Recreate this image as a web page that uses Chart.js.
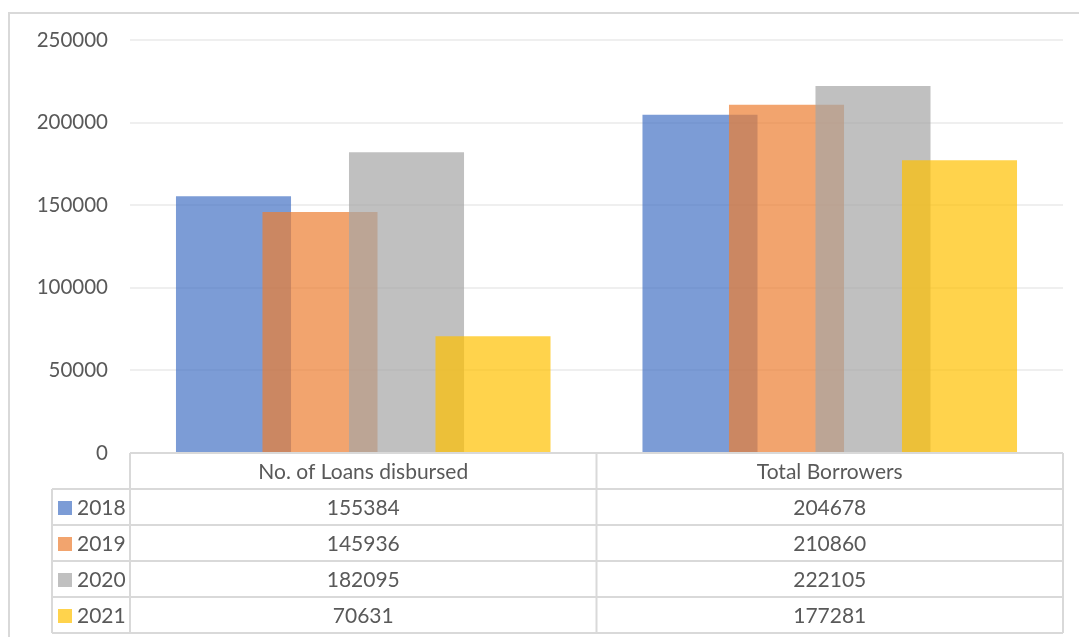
<!DOCTYPE html>
<html>
<head>
<meta charset="utf-8">
<script src="https://cdn.jsdelivr.net/npm/chart.js@4/dist/chart.umd.min.js"></script>
<style>
  html, body { margin: 0; padding: 0; background: #ffffff; }
  #wrap { width: 1079px; height: 637px; position: relative; }
</style>
</head>
<body>
<div id="wrap"><canvas id="c" width="1079" height="637"></canvas></div>
<script>
const categories = ["No. of Loans disbursed", "Total Borrowers"];
const seriesNames = ["2018", "2019", "2020", "2021"];
const values2018 = [155384, 204678];
const values2019 = [145936, 210860];
const values2020 = [182095, 222105];
const values2021 = [70631, 177281];
const yTicks = [0, 50000, 100000, 150000, 200000, 250000];

const seriesValues = [values2018, values2019, values2020, values2021];
const colors = [
  "rgba(68,114,196,0.7)",
  "rgba(237,125,49,0.7)",
  "rgba(165,165,165,0.7)",
  "rgba(255,192,0,0.7)"
];
const FONT = "Lato, 'Open Sans', sans-serif";
const TEXT = "#595959";
const LINE = "#D9D9D9";

const tablePlugin = {
  id: "dataTable",
  beforeDraw(chart) {
    const ctx = chart.ctx;
    ctx.save();
    ctx.strokeStyle = LINE;
    ctx.lineWidth = 2;
    ctx.beginPath();
    ctx.moveTo(9, 700);
    ctx.lineTo(9, 13);
    ctx.lineTo(1100, 13);
    ctx.stroke();
    ctx.restore();
  },
  beforeDatasetsDraw(chart) {
    // draw series in natural order so later years sit on top
    for (let i = 0; i < chart.data.datasets.length; i++) {
      chart.getDatasetMeta(i).controller.draw();
    }
    return false;
  },
  afterDraw(chart) {
    const ctx = chart.ctx;
    const area = chart.chartArea;
    const xs = chart.scales.x;
    const left = area.left, right = area.right;
    const top = area.bottom;
    const rowH = 36;
    const legendLeft = 52;
    const nRows = seriesNames.length;
    const bottom = top + rowH * (nRows + 1);
    const bounds = [left];
    for (let i = 1; i < categories.length; i++) {
      bounds.push((xs.getPixelForValue(i - 1) + xs.getPixelForValue(i)) / 2);
    }
    bounds.push(right);

    ctx.save();
    ctx.fillStyle = "#ffffff";
    ctx.fillRect(left, top, right - left, bottom - top);
    ctx.fillRect(legendLeft, top + rowH, left - legendLeft, bottom - top - rowH);
    ctx.strokeStyle = LINE;
    ctx.lineWidth = 2;
    ctx.beginPath();
    ctx.moveTo(left, top); ctx.lineTo(right, top);
    for (let r = 1; r <= nRows + 1; r++) {
      const y = top + rowH * r;
      ctx.moveTo(legendLeft, y); ctx.lineTo(right, y);
    }
    ctx.moveTo(legendLeft, top + rowH); ctx.lineTo(legendLeft, bottom);
    bounds.forEach(b => { ctx.moveTo(b, top); ctx.lineTo(b, bottom); });
    ctx.stroke();

    ctx.font = "21px " + FONT;
    ctx.fillStyle = TEXT;
    ctx.textBaseline = "middle";
    ctx.textAlign = "center";
    categories.forEach((c, i) => {
      ctx.fillText(c, (bounds[i] + bounds[i + 1]) / 2, top + rowH / 2 + 1);
    });
    seriesNames.forEach((s, r) => {
      const cy = top + rowH * (r + 1) + rowH / 2 + 1;
      ctx.fillStyle = colors[r];
      ctx.fillRect(legendLeft + 6, cy - 7, 14, 14);
      ctx.fillStyle = TEXT;
      ctx.textAlign = "left";
      ctx.fillText(s, legendLeft + 25, cy);
      ctx.textAlign = "center";
      seriesValues[r].forEach((v, i) => {
        ctx.fillText(String(v), (bounds[i] + bounds[i + 1]) / 2, cy);
      });
    });
    ctx.restore();
  }
};

new Chart(document.getElementById("c"), {
  type: "bar",
  data: {
    labels: categories,
    datasets: seriesNames.map((n, i) => ({
      label: n,
      data: seriesValues[i],
      backgroundColor: colors[i],
      borderWidth: 0,
      categoryPercentage: 0.7417,
      barPercentage: 1.33
    }))
  },
  options: {
    responsive: false,
    animation: false,
    layout: { padding: { left: 0, right: 16, top: 40, bottom: 184 } },
    plugins: { legend: { display: false }, tooltip: { enabled: false } },
    scales: {
      x: { display: false },
      y: {
        min: 0, max: 250000,
        afterFit(s) { s.width = 130; },
        afterBuildTicks(s) { s.ticks = yTicks.map(v => ({ value: v })); },
        ticks: {
          padding: 22, color: TEXT, font: { size: 20.5, family: FONT },
          callback: v => String(v)
        },
        grid: { color: "#EFEFEF", lineWidth: 2, drawTicks: false },
        border: { display: false }
      }
    }
  },
  plugins: [tablePlugin]
});
</script>
</body>
</html>
